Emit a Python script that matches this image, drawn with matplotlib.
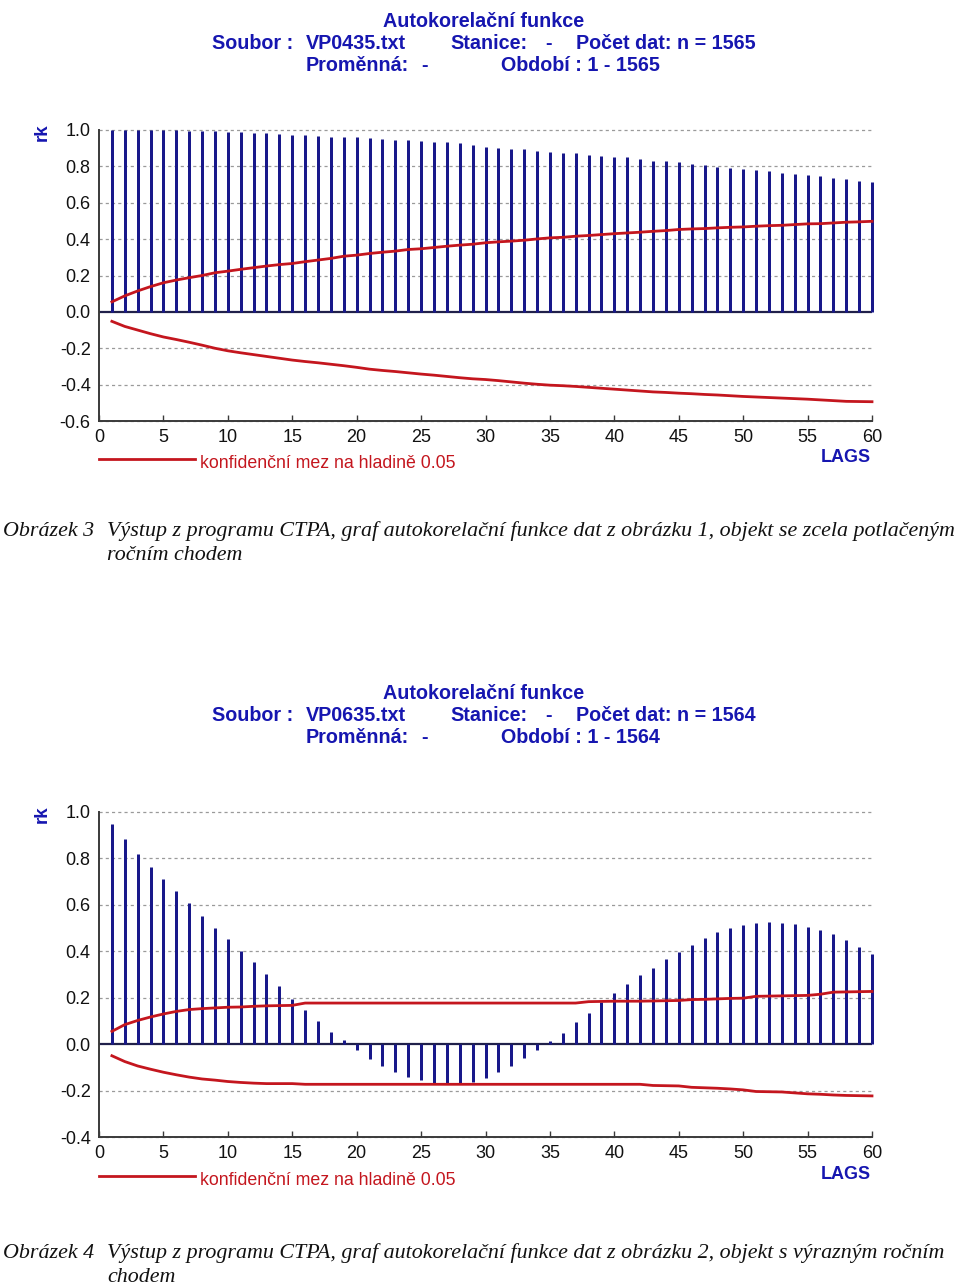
import numpy as np
import matplotlib
matplotlib.use('Agg')
import matplotlib.pyplot as plt

plt.rcParams['font.family'] = ['Liberation Sans', 'DejaVu Sans']

W, H = 960, 1288

lags = np.arange(1, 61)

# Obrazek 3 - VP0435.txt
acf_1 = [1.0, 1.0, 1.0, 1.0, 0.999, 0.998, 0.996, 0.996, 0.993, 0.989,
         0.989, 0.985, 0.982, 0.978, 0.973, 0.973, 0.969, 0.964, 0.964, 0.96,
         0.956, 0.95, 0.945, 0.945, 0.94, 0.936, 0.932, 0.927, 0.916, 0.909,
         0.903, 0.898, 0.894, 0.887, 0.881, 0.876, 0.872, 0.863, 0.858, 0.852,
         0.849, 0.839, 0.832, 0.827, 0.823, 0.814, 0.807, 0.799, 0.792, 0.786,
         0.781, 0.774, 0.765, 0.757, 0.75, 0.745, 0.735, 0.728, 0.721, 0.714]
upper_1 = [0.055, 0.088, 0.115, 0.139, 0.16, 0.175, 0.188, 0.2, 0.215, 0.224,
           0.234, 0.243, 0.252, 0.26, 0.266, 0.276, 0.285, 0.294, 0.306, 0.312,
           0.321, 0.328, 0.334, 0.343, 0.347, 0.354, 0.361, 0.367, 0.372, 0.38,
           0.385, 0.389, 0.394, 0.401, 0.407, 0.41, 0.416, 0.42, 0.425, 0.43,
           0.434, 0.438, 0.443, 0.447, 0.453, 0.456, 0.458, 0.462, 0.465, 0.467,
           0.471, 0.474, 0.476, 0.48, 0.484, 0.485, 0.489, 0.493, 0.495, 0.498]
lower_1 = [-0.052, -0.08, -0.1, -0.12, -0.138, -0.152, -0.167, -0.183, -0.2, -0.214,
           -0.225, -0.235, -0.245, -0.255, -0.265, -0.273, -0.28, -0.288, -0.296, -0.305,
           -0.315, -0.322, -0.328, -0.335, -0.342, -0.348, -0.355, -0.362, -0.368, -0.372,
           -0.378, -0.385, -0.392, -0.398, -0.403, -0.406, -0.41, -0.415, -0.42, -0.425,
           -0.43, -0.435, -0.44, -0.443, -0.447, -0.45, -0.454, -0.457, -0.461, -0.465,
           -0.468, -0.471, -0.474, -0.477, -0.48, -0.484, -0.488, -0.492, -0.493, -0.494]

# Obrazek 4 - VP0635.txt
acf_2 = [0.95, 0.882, 0.821, 0.765, 0.711, 0.661, 0.606, 0.553, 0.499, 0.452,
         0.401, 0.354, 0.303, 0.25, 0.196, 0.146, 0.098, 0.053, 0.019, -0.024,
         -0.063, -0.094, -0.118, -0.14, -0.154, -0.168, -0.173, -0.173, -0.161, -0.147,
         -0.118, -0.092, -0.058, -0.027, 0.012, 0.047, 0.094, 0.134, 0.182, 0.221,
         0.261, 0.296, 0.329, 0.365, 0.397, 0.427, 0.457, 0.481, 0.499, 0.514,
         0.524, 0.527, 0.524, 0.519, 0.505, 0.491, 0.475, 0.447, 0.418, 0.387]
upper_2 = [0.055, 0.084, 0.102, 0.117, 0.13, 0.141, 0.149, 0.153, 0.156, 0.159,
           0.16, 0.163, 0.165, 0.166, 0.167, 0.177, 0.177, 0.177, 0.177, 0.177,
           0.177, 0.177, 0.177, 0.177, 0.177, 0.177, 0.177, 0.177, 0.177, 0.177,
           0.177, 0.177, 0.177, 0.177, 0.177, 0.177, 0.177, 0.183, 0.184, 0.185,
           0.185, 0.185, 0.186, 0.187, 0.188, 0.192, 0.193, 0.195, 0.197, 0.198,
           0.206, 0.207, 0.208, 0.209, 0.21, 0.215, 0.224, 0.225, 0.226, 0.227]
lower_2 = [-0.05, -0.075, -0.094, -0.108, -0.121, -0.132, -0.142, -0.15, -0.155, -0.161,
           -0.165, -0.168, -0.17, -0.17, -0.17, -0.173, -0.173, -0.173, -0.173, -0.173,
           -0.173, -0.173, -0.173, -0.173, -0.173, -0.173, -0.173, -0.173, -0.173, -0.173,
           -0.173, -0.173, -0.173, -0.173, -0.173, -0.173, -0.173, -0.173, -0.173, -0.173,
           -0.173, -0.173, -0.178, -0.179, -0.18, -0.186, -0.188, -0.19, -0.193, -0.197,
           -0.204, -0.205, -0.206, -0.21, -0.214, -0.216, -0.219, -0.221, -0.222, -0.223]

files = ['VP0435.txt', 'VP0635.txt']
counts = ['1565', '1564']
captions = [
    ('Obrázek 3', 'Výstup z programu CTPA, graf autokorelační funkce dat z obrázku 1, objekt se zcela potlačeným',
     'ročním chodem'),
    ('Obrázek 4', 'Výstup z programu CTPA, graf autokorelační funkce dat z obrázku 2, objekt s výrazným ročním',
     'chodem'),
]

BLUE = '#1616b0'
BAR = '#18188a'
RED = '#c4161e'

fig = plt.figure(figsize=(W / 100, H / 100), dpi=100)

def fx(x):
    return x / W

def fy(y):
    return 1 - y / H

def draw_panel(top, bottom, ylo, yhi, acf, up, lo, fname, n, head_y, leg_y):
    # top / bottom = pixel rows of yhi / ylo
    ax = fig.add_axes([fx(99), fy(bottom), fx(872) - fx(99), (bottom - top) / H])
    ax.set_xlim(0, 60)
    ax.set_ylim(ylo, yhi)
    yt = np.round(np.arange(ylo, yhi + 0.01, 0.2), 1)
    ax.set_yticks(yt)
    ax.set_yticklabels(['%.1f' % v for v in yt])
    ax.set_xticks(np.arange(0, 61, 5))
    for v in yt:
        if abs(v) > 1e-6:
            ax.axhline(v, color='#9a9a9a', lw=0.9, ls=(0, (2.5, 2.5)), zorder=1, clip_on=False)
    ax.axhline(0, color='#20204a', lw=1.6, zorder=2)
    ax.vlines(lags, 0, acf, color=BAR, lw=2.16, zorder=3, clip_on=False)
    ax.plot(lags, up, color=RED, lw=2.0, zorder=4, clip_on=False)
    ax.plot(lags, lo, color=RED, lw=2.0, zorder=4, clip_on=False)
    for s in ['top', 'right']:
        ax.spines[s].set_visible(False)
    for s in ['left', 'bottom']:
        ax.spines[s].set_color('#3a3a3a')
        ax.spines[s].set_linewidth(1.4)
    ax.tick_params(axis='y', length=0, pad=6, labelsize=13, labelcolor='#111111')
    ax.tick_params(axis='x', direction='in', length=4, width=1, color='#3a3a3a',
                   pad=6, labelsize=13, labelcolor='#111111')

    fig.text(fx(42), fy(top + 2), 'rk', rotation=90, color=BLUE, fontsize=13.5,
             fontweight='bold', ha='center', va='center')

    # header
    kw = dict(color=BLUE, fontsize=14.2, fontweight='bold', va='baseline')
    r1, r2, r3 = head_y + 7, head_y + 29, head_y + 51
    fig.text(fx(484), fy(r1), 'Autokorelační funkce', ha='center', **kw)
    fig.text(fx(212), fy(r2), 'Soubor :', ha='left', **kw)
    fig.text(fx(306), fy(r2), fname, ha='left', **kw)
    fig.text(fx(450), fy(r2), 'Stanice:', ha='left', **kw)
    fig.text(fx(545), fy(r2), '-', ha='left', **kw)
    fig.text(fx(576), fy(r2), 'Počet dat: n = ' + n, ha='left', **kw)
    fig.text(fx(306), fy(r3), 'Proměnná:', ha='left', **kw)
    fig.text(fx(421), fy(r3), '-', ha='left', **kw)
    fig.text(fx(501), fy(r3), 'Období : 1 - ' + n, ha='left', **kw)

    # legend line + text
    fig.add_artist(plt.Line2D([fx(99), fx(195)], [fy(leg_y), fy(leg_y)], color=RED, lw=2.0))
    fig.text(fx(200), fy(leg_y + 9), 'konfidenční mez na hladině 0.05', color=RED,
             fontsize=12.8, ha='left', va='baseline')
    fig.text(fx(871), fy(leg_y + 3), 'LAGS', color=BLUE, fontsize=13,
             fontweight='bold', ha='right', va='baseline')
    return ax

draw_panel(130, 421, -0.6, 1.0, acf_1, upper_1, lower_1, files[0], counts[0], 20, 459)
draw_panel(812, 1137, -0.4, 1.0, acf_2, upper_2, lower_2, files[1], counts[1], 692, 1176)

# figure captions
cap_kw = dict(family=['Liberation Serif', 'DejaVu Serif'], style='italic', fontsize=15.8,
              color='#111111', va='center', ha='left')
for (lab, line1, line2), y in zip(captions, [531, 1253]):
    fig.text(fx(3), fy(y), lab, **cap_kw)
    fig.text(fx(107), fy(y), line1, **cap_kw)
    fig.text(fx(107), fy(y + 25), line2, **cap_kw)

fig.savefig('out.png', dpi=100)
